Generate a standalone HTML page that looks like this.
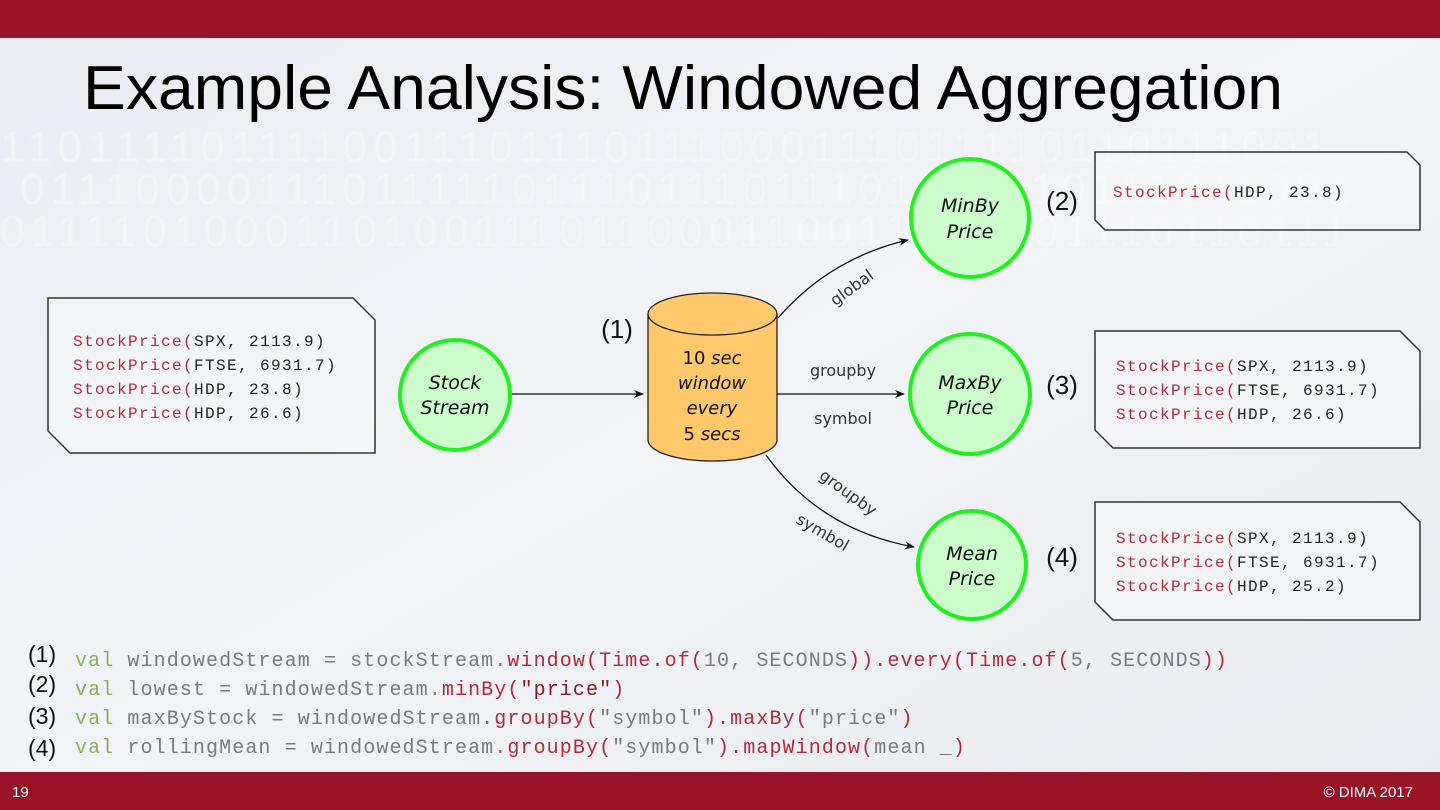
<!DOCTYPE html>
<html><head><meta charset="utf-8"><style>
html,body{margin:0;padding:0;}
body{width:1440px;height:810px;overflow:hidden;background:#edf0f4;}
svg{display:block;}
.mono{font-family:"Liberation Mono",monospace;}
.g{fill:#777a7e}.r{fill:#b02a3c}.v{fill:#8caf5c}.d{fill:#8a1a28}.k{fill:#222}
.it{font-family:"DejaVu Sans","Liberation Sans",sans-serif;font-style:italic;}
.lab{font-family:"DejaVu Sans","Liberation Sans",sans-serif;font-size:16px;fill:#333;}
.num{font-family:"Liberation Sans",sans-serif;font-size:26px;fill:#111;}
</style></head><body>
<svg width="1440" height="810" viewBox="0 0 1440 810" xmlns="http://www.w3.org/2000/svg">
<defs>
<linearGradient id="bg" x1="0" y1="0" x2="1" y2="1">
<stop offset="0" stop-color="#e9edf3"/><stop offset="0.5" stop-color="#f1f3f6"/><stop offset="1" stop-color="#e8ebef"/>
</linearGradient>
<marker id="ar" viewBox="0 0 10 10" refX="9" refY="5" markerWidth="10" markerHeight="10" markerUnits="userSpaceOnUse" orient="auto">
<path d="M0,1 L10,5 L0,9 L3,5 z" fill="#111"/></marker>
</defs>
<rect width="1440" height="810" fill="url(#bg)"/>
<g font-family="Liberation Sans,sans-serif" font-size="44" fill="#ffffff" opacity="0.35" letter-spacing="6">
<text x="0" y="162">1101111011110011101110111000111011110110111001</text>
<text x="20" y="204">0111000011101111101110111011101110110111011001</text>
<text x="0" y="246">0111101000110100111011000110011011001110110111</text>
</g>
<rect x="0" y="0" width="1440" height="38" fill="#9a1226"/>
<rect x="0" y="772" width="1440" height="38" fill="#9a1226"/>
<text x="83" y="109" font-family="Liberation Sans,sans-serif" font-size="62" fill="#000" textLength="1200" lengthAdjust="spacingAndGlyphs">Example Analysis: Windowed Aggregation</text>
<text x="12" y="797" font-family="Liberation Sans,sans-serif" font-size="15" fill="#fff">19</text>
<text x="1413" y="797" text-anchor="end" font-family="Liberation Sans,sans-serif" font-size="15" fill="#fff">© DIMA 2017</text>

<g fill="#f5f6f8" fill-opacity="0.6" stroke="#333" stroke-width="1.5">
<path d="M48,298 L353,298 L375,320 L375,453 L70,453 L48,431 Z"/>
<path d="M1095,152 L1407,152 L1420,165 L1420,230 L1105,230 L1095,220 Z"/>
<path d="M1095,331 L1400,331 L1420,351 L1420,448 L1113,448 L1095,430 Z"/>
<path d="M1095,502 L1400,502 L1420,522 L1420,620 L1113,620 L1095,602 Z"/>
</g>
<g class="mono" font-size="16" letter-spacing="1.4">
<text x="73" y="346"><tspan class="r">StockPrice(</tspan><tspan class="k">SPX, 2113.9)</tspan></text>
<text x="73" y="370"><tspan class="r">StockPrice(</tspan><tspan class="k">FTSE, 6931.7)</tspan></text>
<text x="73" y="394"><tspan class="r">StockPrice(</tspan><tspan class="k">HDP, 23.8)</tspan></text>
<text x="73" y="418"><tspan class="r">StockPrice(</tspan><tspan class="k">HDP, 26.6)</tspan></text>
<text x="1113" y="197"><tspan class="r">StockPrice(</tspan><tspan class="k">HDP, 23.8)</tspan></text>
<text x="1116" y="371"><tspan class="r">StockPrice(</tspan><tspan class="k">SPX, 2113.9)</tspan></text>
<text x="1116" y="395"><tspan class="r">StockPrice(</tspan><tspan class="k">FTSE, 6931.7)</tspan></text>
<text x="1116" y="419"><tspan class="r">StockPrice(</tspan><tspan class="k">HDP, 26.6)</tspan></text>
<text x="1116" y="543"><tspan class="r">StockPrice(</tspan><tspan class="k">SPX, 2113.9)</tspan></text>
<text x="1116" y="567"><tspan class="r">StockPrice(</tspan><tspan class="k">FTSE, 6931.7)</tspan></text>
<text x="1116" y="591"><tspan class="r">StockPrice(</tspan><tspan class="k">HDP, 25.2)</tspan></text>
</g>

<g stroke="#111" stroke-width="1.3" fill="none">
<line x1="511" y1="394" x2="643" y2="394" marker-end="url(#ar)"/>
<line x1="777" y1="394" x2="904" y2="394" marker-end="url(#ar)"/>
<path d="M778,318 Q830,258 908,240" marker-end="url(#ar)"/>
<path d="M766,455 Q820,530 914,547" marker-end="url(#ar)"/>
</g>
<text class="lab" x="843" y="376" text-anchor="middle">groupby</text>
<text class="lab" x="843" y="424" text-anchor="middle">symbol</text>
<text class="lab" transform="translate(855,292) rotate(-36)" text-anchor="middle">global</text>
<text class="lab" transform="translate(845,497) rotate(36)" text-anchor="middle">groupby</text>
<text class="lab" transform="translate(820,537) rotate(30)" text-anchor="middle">symbol</text>

<path d="M648,314 L648,440 A64.5,21 0 0 0 777,440 L777,314" fill="#ffc96b" stroke="#222" stroke-width="1.3"/>
<ellipse cx="712.5" cy="314" rx="64.5" ry="21" fill="#ffc96b" stroke="#222" stroke-width="1.3"/>
<g font-family="DejaVu Sans,sans-serif" font-size="18" fill="#111" text-anchor="middle">
<text x="712" y="364">10 <tspan font-style="italic">sec</tspan></text>
<text x="712" y="389" font-style="italic">window</text>
<text x="712" y="414" font-style="italic">every</text>
<text x="712" y="440">5 <tspan font-style="italic">secs</tspan></text>
</g>

<g fill="#ccfccc" stroke="#22ee22" stroke-width="4">
<circle cx="455" cy="395" r="55"/>
<circle cx="970" cy="218" r="59"/>
<circle cx="970" cy="394" r="60"/>
<circle cx="972" cy="565" r="54"/>
</g>
<g class="it" font-size="19" fill="#111" text-anchor="middle">
<text x="455" y="389">Stock</text><text x="455" y="414">Stream</text>
<text x="970" y="212">MinBy</text><text x="970" y="238">Price</text>
<text x="970" y="389">MaxBy</text><text x="970" y="414">Price</text>
<text x="972" y="560">Mean</text><text x="972" y="585">Price</text>
</g>
<text class="num" x="1062" y="210" text-anchor="middle">(2)</text>
<text class="num" x="1062" y="394" text-anchor="middle">(3)</text>
<text class="num" x="1062" y="566" text-anchor="middle">(4)</text>
<text class="num" x="617" y="338" text-anchor="middle">(1)</text>

<g font-family="Liberation Sans,sans-serif" font-size="23" fill="#111">
<text x="28" y="662">(1)</text><text x="28" y="692">(2)</text><text x="28" y="724">(3)</text><text x="28" y="756">(4)</text>
</g>
<g class="mono" font-size="20" letter-spacing="1.1">
<text x="75" y="666"><tspan class="v">val</tspan><tspan class="g"> windowedStream = stockStream.</tspan><tspan class="r">window(Time.of(</tspan><tspan class="g">10, SECONDS</tspan><tspan class="r">)).every(Time.of(</tspan><tspan class="g">5, SECONDS</tspan><tspan class="r">))</tspan></text>
<text x="75" y="695"><tspan class="v">val</tspan><tspan class="g"> lowest = windowedStream.</tspan><tspan class="r">minBy(</tspan><tspan class="d">"price"</tspan><tspan class="r">)</tspan></text>
<text x="75" y="724"><tspan class="v">val</tspan><tspan class="g"> maxByStock = windowedStream.</tspan><tspan class="r">groupBy(</tspan><tspan class="g">"symbol"</tspan><tspan class="r">).maxBy(</tspan><tspan class="g">"price"</tspan><tspan class="r">)</tspan></text>
<text x="75" y="753"><tspan class="v">val</tspan><tspan class="g"> rollingMean = windowedStream.</tspan><tspan class="r">groupBy(</tspan><tspan class="g">"symbol"</tspan><tspan class="r">).mapWindow(</tspan><tspan class="g">mean _</tspan><tspan class="r">)</tspan></text>
</g>
</svg>
</body></html>
